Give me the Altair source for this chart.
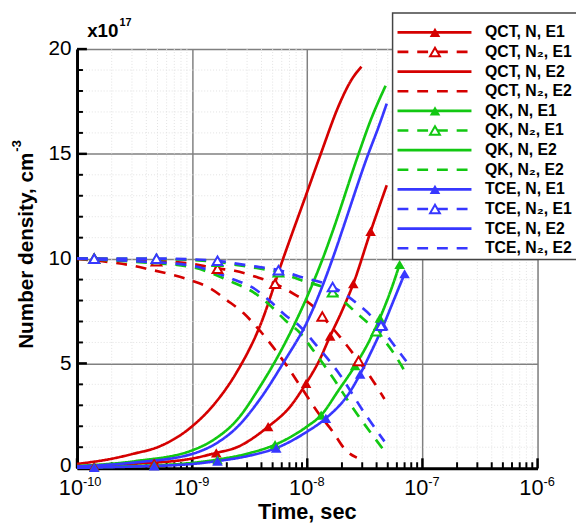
import altair as alt
import pandas as pd

FONT = "Liberation Sans"

# ---------------- data (time in s, number density in 1e17 cm^-3) ----------------
SERIES = [
    "QCT, N, E1", "QCT, N₂, E1", "QCT, N, E2", "QCT, N₂, E2",
    "QK, N, E1", "QK, N₂, E1", "QK, N, E2", "QK, N₂, E2",
    "TCE, N, E1", "TCE, N₂, E1", "TCE, N, E2", "TCE, N₂, E2",
]
SOLVER_COLORS = {"QCT": "#d50000", "QK": "#12c812", "TCE": "#3737ff"}

qct_n_e1_t = [1.0e-10, 3.16e-10, 1.0e-9, 1.62e-9, 2.45e-9, 4.57e-9, 7.08e-9, 9.77e-9, 1.26e-8, 1.58e-8, 2.0e-8, 2.51e-8, 3.55e-8, 4.9e-8]
qct_n_e1_v = [0.08, 0.21, 0.46, 0.73, 1.0, 1.98, 2.93, 4.05, 5.1, 6.3, 7.5, 8.8, 11.3, 13.5]
qct_n2_e1_t = [1.0e-10, 3.16e-10, 1.0e-9, 1.55e-9, 2.34e-9, 3.63e-9, 5.25e-9, 7.94e-9, 1.11e-8, 1.35e-8, 2.0e-8, 2.79e-8, 3.63e-8, 4.68e-8]
qct_n2_e1_v = [10.0, 9.93, 9.75, 9.55, 9.42, 9.12, 8.8, 8.26, 7.75, 7.24, 6.15, 5.12, 4.26, 3.3]
qct_n_e2_t = [1.0e-10, 2.0e-10, 3.16e-10, 5.0e-10, 1.0e-9, 1.58e-9, 2.45e-9, 3.89e-9, 6.17e-9, 1.0e-8, 1.31e-8, 1.91e-8, 2.4e-8, 2.95e-8]
qct_n_e2_v = [0.2, 0.45, 0.7, 1.0, 2.0, 3.1, 4.6, 6.8, 10.0, 13.2, 15.0, 17.4, 18.5, 19.16]
qct_n2_e2_t = [1.0e-10, 2.0e-10, 3.16e-10, 4.17e-10, 6.17e-10, 9.77e-10, 1.45e-9, 2.0e-9, 2.79e-9, 3.89e-9, 6.61e-9, 9.12e-9, 1.26e-8, 1.66e-8, 2.14e-8, 2.69e-8]
qct_n2_e2_v = [9.98, 9.82, 9.65, 9.5, 9.28, 8.96, 8.57, 8.02, 7.4, 6.55, 4.9, 3.75, 2.6, 1.75, 0.88, 0.5]

qk_n_e1_t = [1.0e-10, 3.16e-10, 1.0e-9, 1.66e-9, 3.16e-9, 5.25e-9, 1.0e-8, 1.32e-8, 1.86e-8, 2.6e-8, 3.55e-8, 4.27e-8, 5.25e-8, 6.34e-8]
qk_n_e1_v = [0.03, 0.1, 0.25, 0.41, 0.72, 1.12, 2.0, 2.53, 3.7, 4.89, 6.2, 7.16, 8.4, 9.72]
qk_n2_e1_t = [1.0e-10, 4.9e-10, 1.66e-9, 2.29e-9, 3.63e-9, 5.62e-9, 8.51e-9, 1.66e-8, 2.6e-8, 3.98e-8, 5.62e-8, 7.24e-8]
qk_n2_e1_v = [10.0, 9.98, 9.85, 9.72, 9.55, 9.35, 9.0, 8.4, 7.47, 6.53, 5.5, 4.5]
qk_n_e2_t = [1.0e-10, 3.16e-10, 1.0e-9, 1.58e-9, 2.45e-9, 3.89e-9, 6.31e-9, 1.0e-8, 1.45e-8, 1.66e-8, 2.79e-8, 3.55e-8, 4.79e-8]
qk_n_e2_v = [0.1, 0.33, 0.85, 1.4, 2.3, 3.9, 5.9, 8.2, 10.4, 11.3, 15.0, 16.6, 18.25]
qk_n2_e2_t = [1.0e-10, 3.16e-10, 9.77e-10, 2.29e-9, 3.39e-9, 4.68e-9, 6.61e-9, 8.51e-9, 1.11e-8, 1.66e-8, 2.45e-8, 4.57e-8]
qk_n2_e2_v = [10.0, 9.85, 9.6, 8.85, 8.4, 7.8, 7.0, 6.5, 5.67, 4.34, 2.93, 0.89]

tce_n_e1_t = [1.0e-10, 3.16e-10, 1.0e-9, 1.66e-9, 3.16e-9, 5.37e-9, 1.0e-8, 1.45e-8, 2.34e-8, 2.88e-8, 3.55e-8, 4.57e-8, 5.62e-8, 7.0e-8]
tce_n_e1_v = [0.02, 0.08, 0.2, 0.34, 0.6, 0.96, 1.75, 2.38, 3.63, 4.49, 5.5, 6.8, 8.0, 9.28]
tce_n2_e1_t = [1.0e-10, 4.9e-10, 1.66e-9, 2.29e-9, 3.63e-9, 5.62e-9, 8.51e-9, 1.66e-8, 2.69e-8, 3.98e-8, 5.62e-8, 7.24e-8]
tce_n2_e1_v = [10.0, 10.0, 9.9, 9.78, 9.62, 9.45, 9.15, 8.65, 7.87, 7.0, 5.9, 5.1]
tce_n_e2_t = [1.0e-10, 3.16e-10, 1.0e-9, 1.58e-9, 2.45e-9, 3.89e-9, 6.31e-9, 1.0e-8, 1.76e-8, 2.0e-8, 3.39e-8, 4.17e-8, 4.9e-8]
tce_n_e2_v = [0.08, 0.27, 0.68, 1.15, 1.95, 3.3, 5.1, 7.0, 10.4, 11.3, 15.0, 16.3, 17.4]
tce_n2_e2_t = [1.0e-10, 3.16e-10, 9.77e-10, 2.29e-9, 3.39e-9, 4.68e-9, 6.61e-9, 8.51e-9, 1.15e-8, 1.86e-8, 3.09e-8, 4.68e-8]
tce_n2_e2_v = [10.0, 9.88, 9.67, 9.0, 8.6, 8.0, 7.25, 6.8, 5.98, 4.57, 2.69, 1.28]

# triangle marker positions
qct_n_e1_mk_t = [1.41e-10, 4.68e-10, 1.62e-9, 4.57e-9, 9.77e-9, 1.58e-8, 2.51e-8, 3.55e-8]
qct_n_e1_mk_v = [0.1, 0.26, 0.73, 1.98, 4.05, 6.3, 8.8, 11.3]
qct_n2_e1_mk_t = [1.41e-10, 4.9e-10, 1.66e-9, 5.25e-9, 1.35e-8, 2.79e-8]
qct_n2_e1_mk_v = [10.0, 9.88, 9.52, 8.8, 7.24, 5.12]
qk_n_e1_mk_t = [1.41e-10, 4.68e-10, 1.66e-9, 5.25e-9, 1.32e-8, 2.6e-8, 4.27e-8, 6.34e-8]
qk_n_e1_mk_v = [0.04, 0.13, 0.41, 1.12, 2.53, 4.89, 7.16, 9.72]
qk_n2_e1_mk_t = [1.41e-10, 4.9e-10, 1.66e-9, 5.62e-9, 1.66e-8, 3.98e-8]
qk_n2_e1_mk_v = [10.0, 9.98, 9.85, 9.35, 8.4, 6.53]
tce_n_e1_mk_t = [1.41e-10, 4.68e-10, 1.66e-9, 5.37e-9, 1.45e-8, 2.88e-8, 4.57e-8, 7.0e-8]
tce_n_e1_mk_v = [0.03, 0.11, 0.34, 0.96, 2.38, 4.49, 6.8, 9.28]
tce_n2_e1_mk_t = [1.41e-10, 4.9e-10, 1.66e-9, 5.62e-9, 1.66e-8, 4.37e-8]
tce_n2_e1_mk_v = [10.0, 10.0, 9.9, 9.45, 8.65, 6.8]

x_major = [1e-10, 1e-9, 1e-8, 1e-7, 1e-6]
x_exponents = ["-10", "-9", "-8", "-7", "-6"]
x_minor = [k * d for d in [1e-10, 1e-9, 1e-8, 1e-7] for k in range(2, 10)]
y_major = [0, 5, 10, 15, 20]
y_minor = [v for v in range(1, 20) if v % 5 != 0]

# ---------------- tables ----------------
curves = {
    "QCT, N, E1": (qct_n_e1_t, qct_n_e1_v), "QCT, N₂, E1": (qct_n2_e1_t, qct_n2_e1_v),
    "QCT, N, E2": (qct_n_e2_t, qct_n_e2_v), "QCT, N₂, E2": (qct_n2_e2_t, qct_n2_e2_v),
    "QK, N, E1": (qk_n_e1_t, qk_n_e1_v), "QK, N₂, E1": (qk_n2_e1_t, qk_n2_e1_v),
    "QK, N, E2": (qk_n_e2_t, qk_n_e2_v), "QK, N₂, E2": (qk_n2_e2_t, qk_n2_e2_v),
    "TCE, N, E1": (tce_n_e1_t, tce_n_e1_v), "TCE, N₂, E1": (tce_n2_e1_t, tce_n2_e1_v),
    "TCE, N, E2": (tce_n_e2_t, tce_n_e2_v), "TCE, N₂, E2": (tce_n2_e2_t, tce_n2_e2_v),
}
markers = {
    "QCT, N, E1": (qct_n_e1_mk_t, qct_n_e1_mk_v), "QCT, N₂, E1": (qct_n2_e1_mk_t, qct_n2_e1_mk_v),
    "QK, N, E1": (qk_n_e1_mk_t, qk_n_e1_mk_v), "QK, N₂, E1": (qk_n2_e1_mk_t, qk_n2_e1_mk_v),
    "TCE, N, E1": (tce_n_e1_mk_t, tce_n_e1_mk_v), "TCE, N₂, E1": (tce_n2_e1_mk_t, tce_n2_e1_mk_v),
}

def is_dashed(name):
    return "N₂" in name

line_rows = []
for i, name in enumerate(SERIES):
    ts, vs = curves[name]
    for t, v in zip(ts, vs):
        line_rows.append({"series": name, "idx": i, "t": t, "v": v})
df_lines = pd.DataFrame(line_rows)

mk_rows = []
for name in SERIES:
    if name in markers:
        ts, vs = markers[name]
        for t, v in zip(ts, vs):
            mk_rows.append({"series": name, "t": t, "v": v, "hollow": is_dashed(name)})
df_mk = pd.DataFrame(mk_rows)

df_leg = pd.DataFrame({
    "series": SERIES,
    "row": list(range(len(SERIES))),
    "mark": ["none" if "E2" in s else ("hollow" if is_dashed(s) else "filled") for s in SERIES],
})

colors = [SOLVER_COLORS[s.split(",")[0]] for s in SERIES]
dashes = [[11, 9] if is_dashed(s) else [1, 0] for s in SERIES]
color_scale = alt.Scale(domain=SERIES, range=colors)
dash_scale = alt.Scale(domain=SERIES, range=dashes)

W, H = 467, 425
xs = alt.Scale(type="log", domain=[1e-10, 1e-6], nice=False)
ys = alt.Scale(domain=[0, 20], nice=False, zero=False)

x_axis = alt.Axis(values=x_major, grid=True, gridColor="#808080", gridWidth=1.5,
                  ticks=False, labels=False, domainColor="black", domainWidth=3, title=None)
y_axis = alt.Axis(values=y_major, grid=True, gridColor="#808080", gridWidth=1.5,
                  ticks=False, labelFont=FONT, labelFontSize=21, labelColor="black",
                  labelPadding=6, labelOffset=alt.ExprRef("datum.value == 0 ? -3 : 0"),
                  domainColor="black", domainWidth=3, title=None)

def X():
    return alt.X("t:Q", scale=xs, axis=x_axis)

def Y():
    return alt.Y("v:Q", scale=ys, axis=y_axis)

# ---------------- main plot ----------------
minor_x_grid = alt.Chart(pd.DataFrame({"t": x_minor})).mark_rule(
    color="#e2e2e2", strokeWidth=1, strokeDash=[1, 2]
).encode(x=X(), y=alt.value(0), y2=alt.value(H))
minor_y_grid = alt.Chart(pd.DataFrame({"v": y_minor})).mark_rule(
    color="#e2e2e2", strokeWidth=1, strokeDash=[1, 2]
).encode(y=Y(), x=alt.value(0), x2=alt.value(W))

lines = alt.Chart(df_lines).mark_line(strokeWidth=2.7, interpolate="monotone").encode(
    x=X(), y=Y(),
    color=alt.Color("series:N", scale=color_scale, legend=None),
    strokeDash=alt.StrokeDash("series:N", scale=dash_scale, legend=None),
    detail="idx:O",
)

mk_filled = alt.Chart(df_mk).transform_filter("!datum.hollow").mark_point(
    shape="triangle-up", filled=True, size=115, opacity=1
).encode(x=X(), y=Y(), color=alt.Color("series:N", scale=color_scale, legend=None))
mk_hollow = alt.Chart(df_mk).transform_filter("datum.hollow").mark_point(
    shape="triangle-up", filled=False, fill="white", size=100, strokeWidth=2, opacity=1
).encode(x=X(), y=Y(), color=alt.Color("series:N", scale=color_scale, legend=None))

xt_major = alt.Chart(pd.DataFrame({"t": x_major})).mark_rule(color="black", strokeWidth=2.5).encode(
    x=X(), y=alt.value(H), y2=alt.value(H - 10))
xt_minor = alt.Chart(pd.DataFrame({"t": x_minor})).mark_rule(color="black", strokeWidth=2).encode(
    x=X(), y=alt.value(H), y2=alt.value(H - 6))
yt_major = alt.Chart(pd.DataFrame({"v": y_major})).mark_rule(color="black", strokeWidth=2.5).encode(
    y=Y(), x=alt.value(0), x2=alt.value(10))
yt_minor = alt.Chart(pd.DataFrame({"v": y_minor})).mark_rule(color="black", strokeWidth=2).encode(
    y=Y(), x=alt.value(0), x2=alt.value(6))

df_xl = pd.DataFrame({"t": x_major, "base": ["10"] * len(x_major), "exp": x_exponents})
xl_base = alt.Chart(df_xl).mark_text(
    align="right", baseline="alphabetic", dx=6, font=FONT, fontSize=22, color="black"
).encode(x=X(), y=alt.value(H + 27), text="base:N")
xl_exp = alt.Chart(df_xl).mark_text(
    align="left", baseline="alphabetic", dx=6, font=FONT, fontSize=13, color="black"
).encode(x=X(), y=alt.value(H + 18), text="exp:N")

def label(txt, **kw):
    return alt.Chart(pd.DataFrame({"label": [txt]})).mark_text(font=FONT, color="black", **kw)

x_title = label("Time, sec", fontSize=22, fontWeight="bold", align="center", baseline="alphabetic").encode(
    x=alt.value(W / 2), y=alt.value(H + 52), text="label:N")
y_title = label("Number density, cm", fontSize=21, fontWeight="bold", angle=270, align="right",
                baseline="alphabetic").encode(x=alt.value(-45), y=alt.value(105), text="label:N")
y_title_sup = label("-3", fontSize=13, fontWeight="bold", angle=270, align="left",
                    baseline="alphabetic").encode(x=alt.value(-57), y=alt.value(104), text="label:N")
mult = label("x10", fontSize=19, fontWeight="bold", align="right", baseline="alphabetic").encode(
    x=alt.value(42), y=alt.value(-12), text="label:N")
mult_sup = label("17", fontSize=11, fontWeight="bold", align="left", baseline="alphabetic").encode(
    x=alt.value(43), y=alt.value(-23), text="label:N")

main = alt.layer(minor_x_grid, minor_y_grid, xt_major, xt_minor, yt_major, yt_minor,
                 lines, mk_filled, mk_hollow, xl_base, xl_exp, x_title, y_title, y_title_sup,
                 mult, mult_sup)

# ---------------- legend ----------------
ly = alt.Y("row:Q", scale=alt.Scale(domain=[0, 11], range=[-17, 202]), axis=None)
leg_box = alt.Chart(pd.DataFrame({"a": [0]})).mark_rect(
    fill="white", stroke="#444444", strokeWidth=1.5
).encode(x=alt.value(320), x2=alt.value(540), y=alt.value(-36.7), y2=alt.value(213.3))
leg_lines = alt.Chart(df_leg).mark_rule(strokeWidth=2.7).encode(
    x=alt.value(325), x2=alt.value(400), y=ly,
    color=alt.Color("series:N", scale=color_scale, legend=None),
    strokeDash=alt.StrokeDash("series:N", scale=dash_scale, legend=None))
leg_mf = alt.Chart(df_leg).transform_filter("datum.mark == 'filled'").mark_point(
    shape="triangle-up", filled=True, size=115, opacity=1
).encode(x=alt.value(363), y=ly, color=alt.Color("series:N", scale=color_scale, legend=None))
leg_mh = alt.Chart(df_leg).transform_filter("datum.mark == 'hollow'").mark_point(
    shape="triangle-up", filled=False, fill="white", size=100, strokeWidth=2, opacity=1
).encode(x=alt.value(363), y=ly, color=alt.Color("series:N", scale=color_scale, legend=None))
leg_text = alt.Chart(df_leg).mark_text(
    align="left", baseline="middle", font=FONT, fontSize=16, fontWeight="bold", color="black"
).encode(x=alt.value(413.7), y=ly, text="series:N")

legend = alt.layer(leg_box, leg_lines, leg_mf, leg_mh, leg_text)

chart = alt.layer(main, legend).resolve_scale(x="independent", y="independent").properties(
    width=W, height=H,
    autosize=alt.AutoSizeParams(type="none"),
    padding={"left": 70, "top": 38, "right": 39, "bottom": 56},
).configure_view(stroke="#808080", strokeWidth=1.5).configure(background="white")

chart.save("out.html", embed_options={"renderer": "svg", "actions": False})
